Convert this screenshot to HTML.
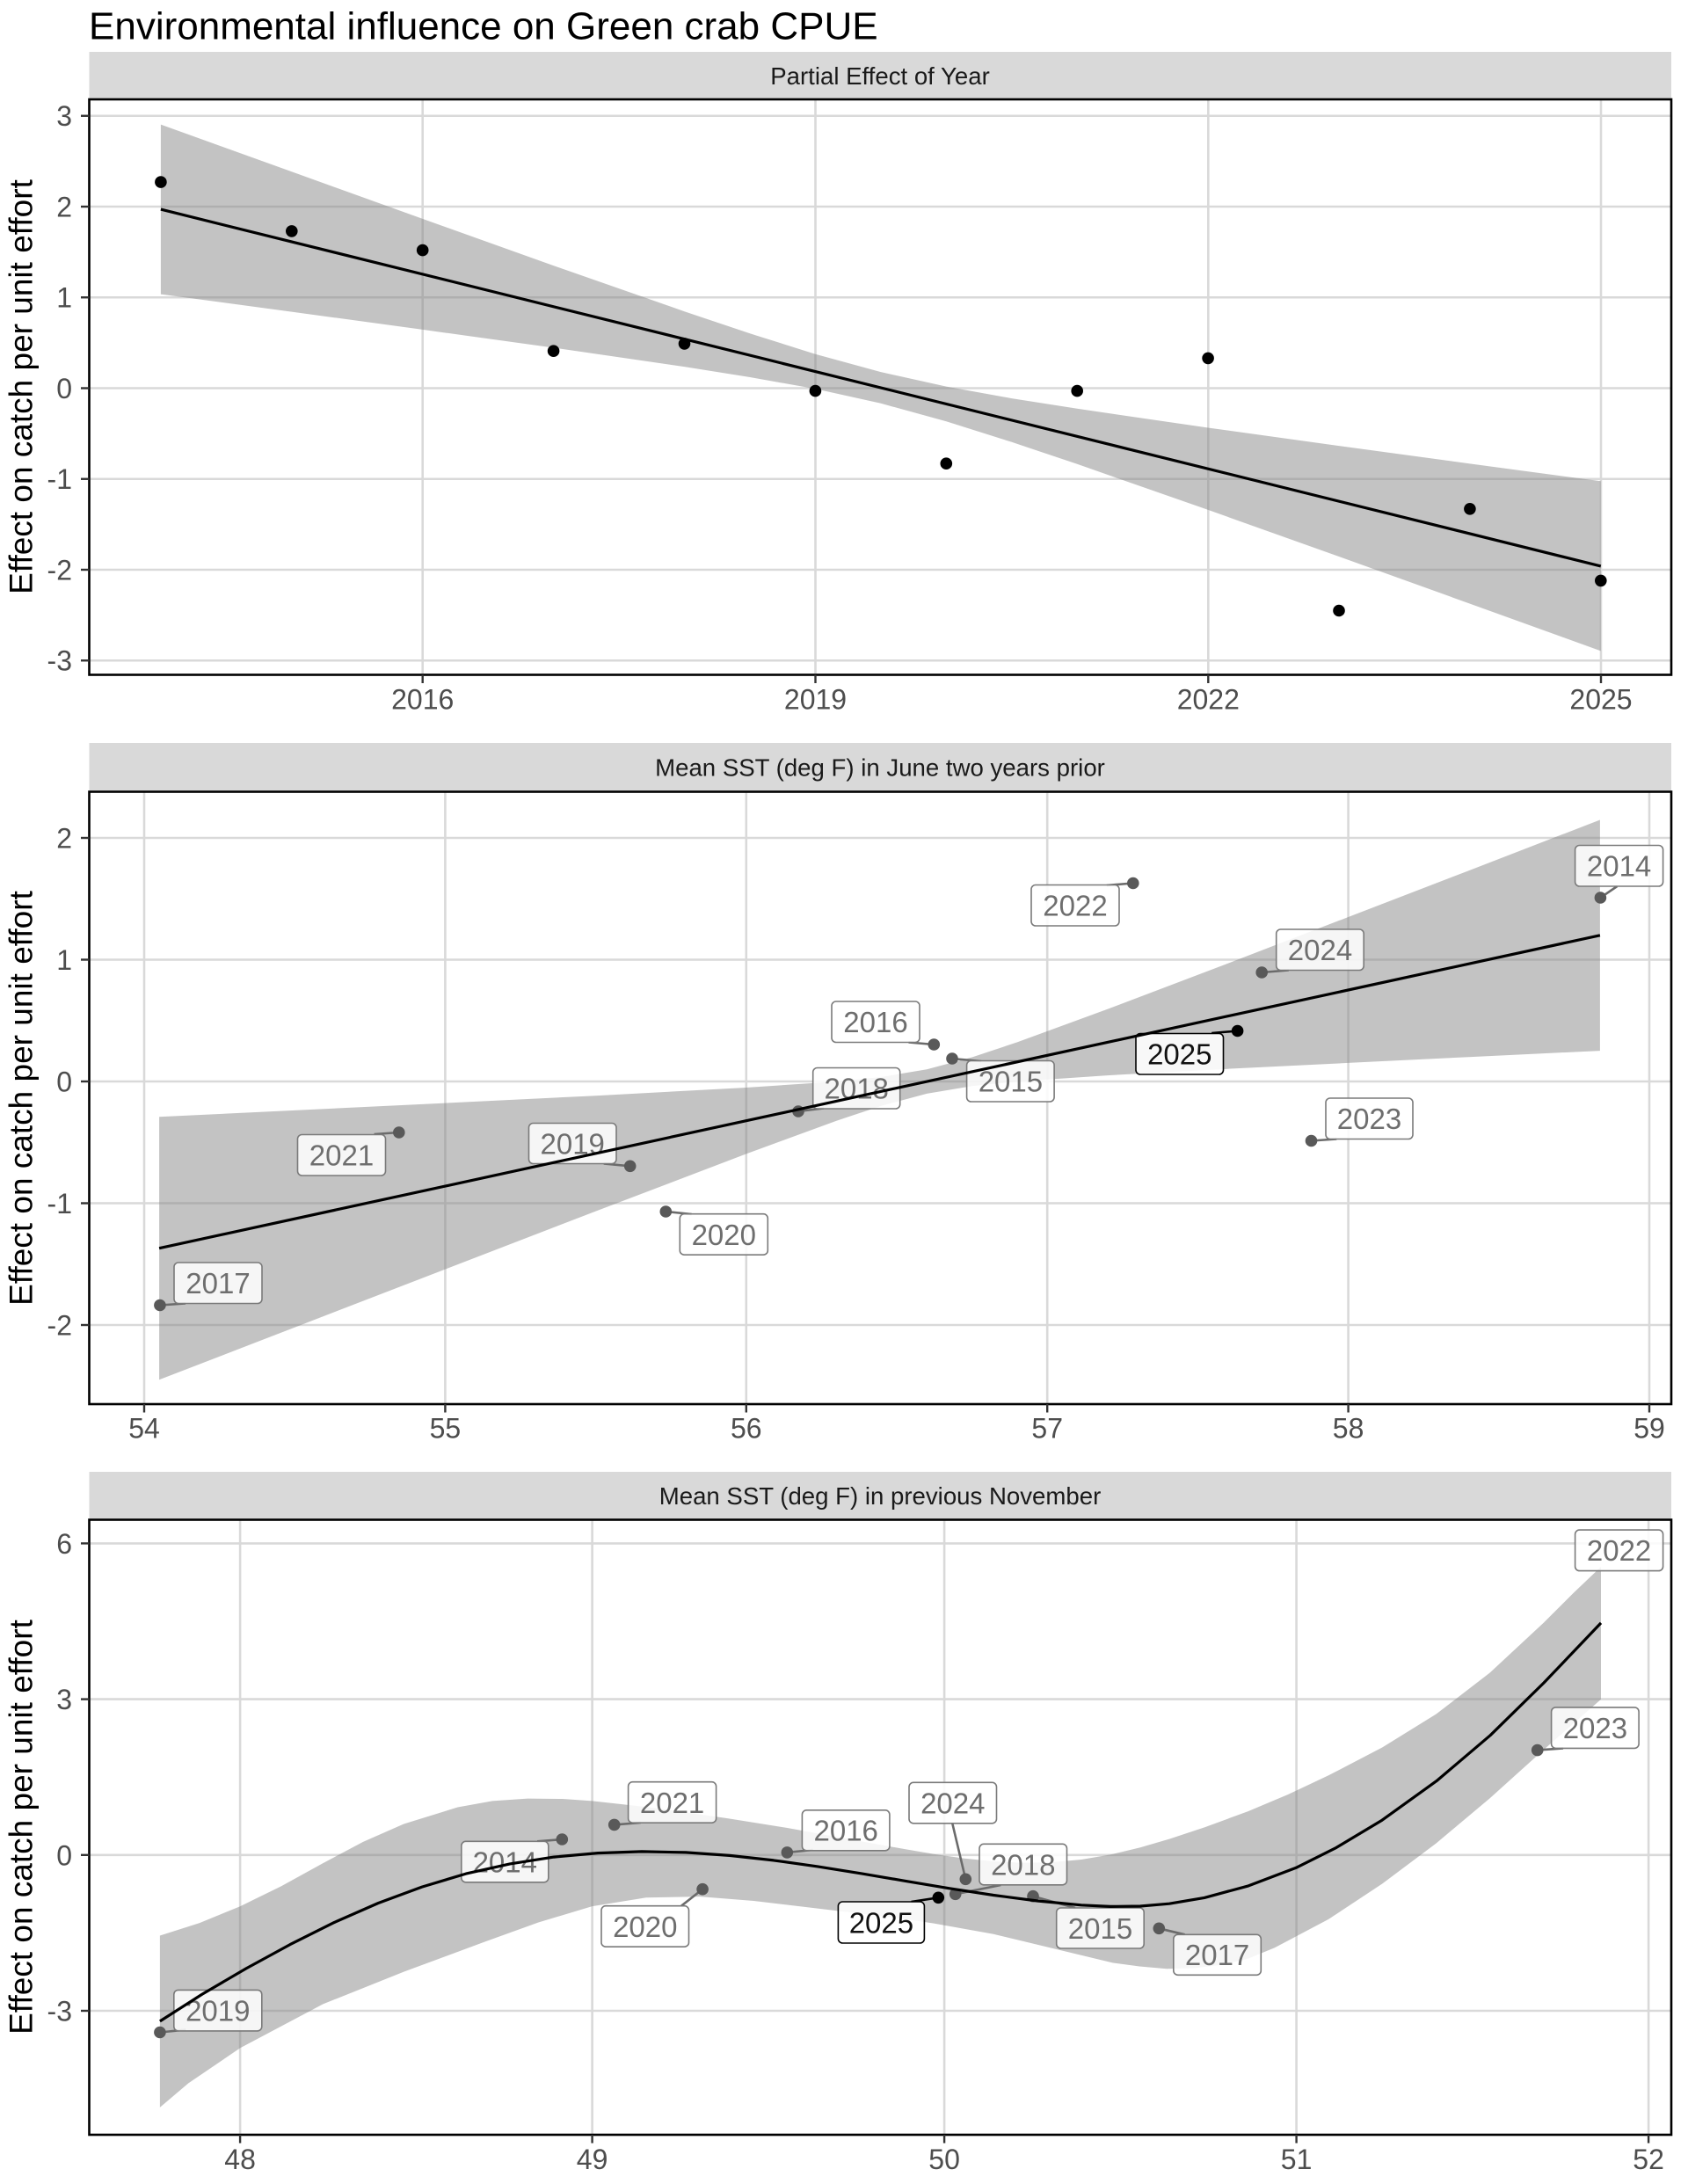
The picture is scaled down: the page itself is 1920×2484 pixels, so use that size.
<!DOCTYPE html>
<html>
<head>
<meta charset="utf-8">
<style>
  html, body { margin:0; padding:0; background:#ffffff; }
  svg { display:block; }
  text { font-family: "Liberation Sans", Arial, sans-serif; }
</style>
</head>
<body>
<svg width="1920" height="2484" viewBox="0 0 1920 2484" xmlns="http://www.w3.org/2000/svg">
  <rect x="0" y="0" width="1920" height="2484" fill="#ffffff"/>

  <!-- Title -->
  <text x="101" y="44.5" font-size="44" fill="#000">Environmental influence on Green crab CPUE</text>

  <!-- ================= PANEL 1 ================= -->
  <rect x="101.5" y="59" width="1799.5" height="54" fill="#D9D9D9"/>
  <text x="1001" y="96" font-size="27.6" fill="#1a1a1a" text-anchor="middle">Partial Effect of Year</text>
  <g stroke="#D9D9D9" stroke-width="2.6">
    <line x1="101.5" x2="1901" y1="131.75" y2="131.75"/>
    <line x1="101.5" x2="1901" y1="235" y2="235"/>
    <line x1="101.5" x2="1901" y1="338.25" y2="338.25"/>
    <line x1="101.5" x2="1901" y1="441.5" y2="441.5"/>
    <line x1="101.5" x2="1901" y1="544.75" y2="544.75"/>
    <line x1="101.5" x2="1901" y1="648" y2="648"/>
    <line x1="101.5" x2="1901" y1="751.25" y2="751.25"/>
    <line x1="480.7" x2="480.7" y1="113" y2="767.5"/>
    <line x1="927.5" x2="927.5" y1="113" y2="767.5"/>
    <line x1="1374.3" x2="1374.3" y1="113" y2="767.5"/>
    <line x1="1821" x2="1821" y1="113" y2="767.5"/>
  </g>
  <polygon fill="#808080" fill-opacity="0.47" points="182.9,141.6 331.8,195.3 480.7,248.9 629.6,302.1 778.5,354.2 853,379.3 927.4,402.7 1001.9,423.1 1076.3,439.6 1150.8,453.1 1225.2,464.8 1374.1,486.5 1523,507.1 1671.9,527.4 1820.8,547.3 1820.8,740.4 1671.9,686.6 1523,633 1374.1,579.9 1225.2,527.8 1150.8,502.8 1076.3,479.3 1001.9,458.8 927.4,442.3 853,429 778.5,417.1 629.6,395.5 480.7,374.9 331.8,354.6 182.9,334.6"/>
  <g fill="#000">
    <circle cx="182.9" cy="207.1" r="6.8"/>
    <circle cx="331.8" cy="262.9" r="6.8"/>
    <circle cx="480.7" cy="284.6" r="6.8"/>
    <circle cx="629.6" cy="399.2" r="6.8"/>
    <circle cx="778.5" cy="390.9" r="6.8"/>
    <circle cx="927.4" cy="444.6" r="6.8"/>
    <circle cx="1076.3" cy="527.2" r="6.8"/>
    <circle cx="1225.2" cy="444.6" r="6.8"/>
    <circle cx="1374.1" cy="407.4" r="6.8"/>
    <circle cx="1523" cy="694.5" r="6.8"/>
    <circle cx="1671.9" cy="578.8" r="6.8"/>
    <circle cx="1820.8" cy="660.4" r="6.8"/>
  </g>
  <line x1="182.9" y1="238.1" x2="1820.8" y2="643.9" stroke="#000" stroke-width="3.2"/>
  <rect x="101.5" y="113" width="1799.5" height="654.5" fill="none" stroke="#000" stroke-width="2.6"/>
  <g stroke="#333" stroke-width="2.4">
    <line x1="92" x2="101.5" y1="131.75" y2="131.75"/>
    <line x1="92" x2="101.5" y1="235" y2="235"/>
    <line x1="92" x2="101.5" y1="338.25" y2="338.25"/>
    <line x1="92" x2="101.5" y1="441.5" y2="441.5"/>
    <line x1="92" x2="101.5" y1="544.75" y2="544.75"/>
    <line x1="92" x2="101.5" y1="648" y2="648"/>
    <line x1="92" x2="101.5" y1="751.25" y2="751.25"/>
    <line x1="480.7" x2="480.7" y1="767.5" y2="777"/>
    <line x1="927.5" x2="927.5" y1="767.5" y2="777"/>
    <line x1="1374.3" x2="1374.3" y1="767.5" y2="777"/>
    <line x1="1821" x2="1821" y1="767.5" y2="777"/>
  </g>
  <g font-size="32" fill="#4D4D4D" text-anchor="end">
    <text x="82" y="143.2">3</text>
    <text x="82" y="246.5">2</text>
    <text x="82" y="349.7">1</text>
    <text x="82" y="453">0</text>
    <text x="82" y="556.2">-1</text>
    <text x="82" y="659.5">-2</text>
    <text x="82" y="762.7">-3</text>
  </g>
  <g font-size="32" fill="#4D4D4D" text-anchor="middle">
    <text x="480.7" y="806.5">2016</text>
    <text x="927.5" y="806.5">2019</text>
    <text x="1374.3" y="806.5">2022</text>
    <text x="1821" y="806.5">2025</text>
  </g>
  <text transform="translate(36.5,440) rotate(-90)" font-size="37" fill="#000" text-anchor="middle">Effect on catch per unit effort</text>

  <!-- ================= PANEL 2 ================= -->
  <rect x="101.5" y="845" width="1799.5" height="55.5" fill="#D9D9D9"/>
  <text x="1001" y="882.5" font-size="27.6" fill="#1a1a1a" text-anchor="middle">Mean SST (deg F) in June two years prior</text>
  <g stroke="#D9D9D9" stroke-width="2.6">
    <line x1="101.5" x2="1901" y1="953" y2="953"/>
    <line x1="101.5" x2="1901" y1="1091.5" y2="1091.5"/>
    <line x1="101.5" x2="1901" y1="1230" y2="1230"/>
    <line x1="101.5" x2="1901" y1="1368.5" y2="1368.5"/>
    <line x1="101.5" x2="1901" y1="1507" y2="1507"/>
    <line x1="164" x2="164" y1="900.5" y2="1597"/>
    <line x1="506.4" x2="506.4" y1="900.5" y2="1597"/>
    <line x1="848.8" x2="848.8" y1="900.5" y2="1597"/>
    <line x1="1191.2" x2="1191.2" y1="900.5" y2="1597"/>
    <line x1="1533.6" x2="1533.6" y1="900.5" y2="1597"/>
    <line x1="1876" x2="1876" y1="900.5" y2="1597"/>
  </g>
  <polygon fill="#808080" fill-opacity="0.47" points="181.1,1270.2 335.2,1262.9 506.4,1254.6 677.6,1246.2 848.8,1237 951.5,1230.1 1002.9,1224.9 1054.2,1216.2 1105.6,1202.5 1157,1185.4 1259.7,1147.8 1396.7,1095.7 1533.6,1043 1670.6,990.2 1819.9,932.5 1819.9,1195.1 1670.6,1202.2 1533.6,1208.9 1396.7,1215.7 1259.7,1223.1 1157,1230.1 1105.6,1235.3 1054.2,1243.9 1002.9,1257.6 951.5,1274.7 848.8,1312.4 677.6,1377.6 506.4,1443.6 335.2,1509.7 181.1,1569.3"/>
  <g transform="translate(0,-2)">
  <g stroke="#6b6b6b" stroke-width="2.6">
    <line x1="181.9" y1="1486.5" x2="211" y2="1484.5"/>
    <line x1="453.8" y1="1290" x2="425.6" y2="1292"/>
    <line x1="716.7" y1="1328.3" x2="686.7" y2="1325.5"/>
    <line x1="757.3" y1="1380" x2="786.7" y2="1383"/>
    <line x1="908" y1="1266" x2="937" y2="1262.5"/>
    <line x1="1062.3" y1="1190" x2="1033.5" y2="1187.5"/>
    <line x1="1083" y1="1206" x2="1116" y2="1209"/>
    <line x1="1288.8" y1="1006.5" x2="1258.8" y2="1009"/>
    <line x1="1491.5" y1="1299.5" x2="1520.3" y2="1297.5"/>
    <line x1="1435.2" y1="1108" x2="1465.8" y2="1105.5"/>
    <line x1="1820.4" y1="1023" x2="1839.4" y2="1010"/>
  </g>
  <line x1="1407.6" y1="1174.5" x2="1378.2" y2="1177" stroke="#000" stroke-width="2.6"/>
  <g fill="#595959">
    <circle cx="181.9" cy="1486.5" r="6.8"/>
    <circle cx="453.8" cy="1290" r="6.8"/>
    <circle cx="716.7" cy="1328.3" r="6.8"/>
    <circle cx="757.3" cy="1380" r="6.8"/>
    <circle cx="908" cy="1266" r="6.8"/>
    <circle cx="1062.3" cy="1190" r="6.8"/>
    <circle cx="1083" cy="1206" r="6.8"/>
    <circle cx="1288.8" cy="1006.5" r="6.8"/>
    <circle cx="1435.2" cy="1108" r="6.8"/>
    <circle cx="1491.5" cy="1299.5" r="6.8"/>
    <circle cx="1820.4" cy="1023" r="6.8"/>
  </g>
  <circle cx="1407.6" cy="1174.5" r="6.8" fill="#000"/>
  <g fill="#ffffff" fill-opacity="0.85" stroke="#7a7a7a" stroke-width="1.6">
    <rect x="198" y="1438" width="100" height="46.5" rx="5"/>
    <rect x="338.5" y="1292.5" width="100" height="46.5" rx="5"/>
    <rect x="601.5" y="1279.5" width="99.5" height="46" rx="5"/>
    <rect x="773.3" y="1382.7" width="100" height="46.5" rx="5"/>
    <rect x="924.7" y="1216.5" width="99" height="46.5" rx="5"/>
    <rect x="946" y="1141" width="100" height="46.5" rx="5"/>
    <rect x="1099.6" y="1208.5" width="99.5" height="46.5" rx="5"/>
    <rect x="1173" y="1008.5" width="100" height="46.5" rx="5"/>
    <rect x="1451.7" y="1059" width="99.5" height="46.5" rx="5"/>
    <rect x="1508" y="1251" width="99" height="46.5" rx="5"/>
    <rect x="1791.6" y="963.5" width="100" height="46.5" rx="5"/>
  </g>
  <rect x="1292" y="1177.5" width="99.5" height="46.5" rx="5" fill="#ffffff" fill-opacity="0.88" stroke="#000" stroke-width="1.6"/>
  <g font-size="33" fill="#6e6e6e" text-anchor="middle">
    <text x="248" y="1473">2017</text>
    <text x="388.5" y="1327.5">2021</text>
    <text x="651.2" y="1314.3">2019</text>
    <text x="823.3" y="1417.8">2020</text>
    <text x="974.2" y="1251.5">2018</text>
    <text x="996" y="1176">2016</text>
    <text x="1149.4" y="1243.5">2015</text>
    <text x="1223" y="1043.5">2022</text>
    <text x="1501.5" y="1094">2024</text>
    <text x="1557.5" y="1286">2023</text>
    <text x="1841.6" y="998.5">2014</text>
  </g>
  <text x="1341.8" y="1212.5" font-size="33" fill="#111" text-anchor="middle">2025</text>
  </g>
  <line x1="181.1" y1="1419.7" x2="1819.9" y2="1063.8" stroke="#000" stroke-width="3.2"/>
  <rect x="101.5" y="900.5" width="1799.5" height="696.5" fill="none" stroke="#000" stroke-width="2.6"/>
  <g stroke="#333" stroke-width="2.4">
    <line x1="92" x2="101.5" y1="953" y2="953"/>
    <line x1="92" x2="101.5" y1="1091.5" y2="1091.5"/>
    <line x1="92" x2="101.5" y1="1230" y2="1230"/>
    <line x1="92" x2="101.5" y1="1368.5" y2="1368.5"/>
    <line x1="92" x2="101.5" y1="1507" y2="1507"/>
    <line x1="164" x2="164" y1="1597" y2="1606.5"/>
    <line x1="506.4" x2="506.4" y1="1597" y2="1606.5"/>
    <line x1="848.8" x2="848.8" y1="1597" y2="1606.5"/>
    <line x1="1191.2" x2="1191.2" y1="1597" y2="1606.5"/>
    <line x1="1533.6" x2="1533.6" y1="1597" y2="1606.5"/>
    <line x1="1876" x2="1876" y1="1597" y2="1606.5"/>
  </g>
  <g font-size="32" fill="#4D4D4D" text-anchor="end">
    <text x="82" y="964.5">2</text>
    <text x="82" y="1103">1</text>
    <text x="82" y="1241.5">0</text>
    <text x="82" y="1380">-1</text>
    <text x="82" y="1518.5">-2</text>
  </g>
  <g font-size="32" fill="#4D4D4D" text-anchor="middle">
    <text x="164" y="1635.5">54</text>
    <text x="506.4" y="1635.5">55</text>
    <text x="848.8" y="1635.5">56</text>
    <text x="1191.2" y="1635.5">57</text>
    <text x="1533.6" y="1635.5">58</text>
    <text x="1876" y="1635.5">59</text>
  </g>
  <text transform="translate(36.5,1249) rotate(-90)" font-size="37" fill="#000" text-anchor="middle">Effect on catch per unit effort</text>

  <!-- ================= PANEL 3 ================= -->
  <rect x="101.5" y="1674" width="1799.5" height="54.5" fill="#D9D9D9"/>
  <text x="1001" y="1711" font-size="27.6" fill="#1a1a1a" text-anchor="middle">Mean SST (deg F) in previous November</text>
  <g stroke="#D9D9D9" stroke-width="2.6">
    <line x1="101.5" x2="1901" y1="1755.4" y2="1755.4"/>
    <line x1="101.5" x2="1901" y1="1932.6" y2="1932.6"/>
    <line x1="101.5" x2="1901" y1="2109.8" y2="2109.8"/>
    <line x1="101.5" x2="1901" y1="2287" y2="2287"/>
    <line x1="273.1" x2="273.1" y1="1728.5" y2="2428"/>
    <line x1="673.6" x2="673.6" y1="1728.5" y2="2428"/>
    <line x1="1074.1" x2="1074.1" y1="1728.5" y2="2428"/>
    <line x1="1474.6" x2="1474.6" y1="1728.5" y2="2428"/>
    <line x1="1875.1" x2="1875.1" y1="1728.5" y2="2428"/>
  </g>
  <polygon fill="#808080" fill-opacity="0.47" stroke-linejoin="round" points="181.9,2201.5 227,2187.1 273.1,2168.2 320,2145.2 367.4,2119.1 413,2094.9 459.3,2074.5 520.5,2055.5 560,2048.4 600.1,2045.6 640,2046 673.6,2048.4 734.8,2055.1 826.7,2068 894.1,2078.8 960.2,2090.7 1030,2103.3 1063,2108.9 1097,2113.7 1130,2117 1163,2118.7 1197,2118 1230,2115 1263,2109.4 1297,2101.2 1330,2091.6 1370,2078.4 1419.3,2060.2 1465,2041 1511.1,2019.3 1572.4,1987.4 1633.6,1949.5 1694.8,1902.4 1756.1,1845.4 1790,1811.5 1821,1782 1821,1932.8 1756.1,1989.9 1694.8,2045.1 1633.6,2096.5 1572.4,2142.4 1511.1,2182.9 1449.9,2215.3 1420,2227.5 1388.7,2234.9 1358,2238.5 1327,2239.3 1296,2236.5 1266,2232.5 1197,2215.9 1130,2199.8 1063,2187.7 1030,2182.7 960.2,2174.3 918.5,2169.3 857.3,2162 796.1,2157.1 734.8,2158.3 673.6,2168.1 612.4,2186.5 551.1,2208.6 459.3,2242.6 367.4,2279.4 273.1,2329.4 214.3,2369.4 181.9,2396.9"/>
  <g stroke="#6b6b6b" stroke-width="2.6">
    <line x1="181.9" y1="2311.5" x2="211.3" y2="2308.6"/>
    <line x1="639.3" y1="2092" x2="611.1" y2="2094.3"/>
    <line x1="698.7" y1="2075.4" x2="728.7" y2="2073"/>
    <line x1="799.1" y1="2148.7" x2="775" y2="2167.7"/>
    <line x1="895.3" y1="2106.9" x2="924.7" y2="2104"/>
    <line x1="1098.3" y1="2137.3" x2="1083.3" y2="2074"/>
    <line x1="1086.7" y1="2154.3" x2="1138.3" y2="2144"/>
    <line x1="1175" y1="2156.7" x2="1223" y2="2170"/>
    <line x1="1318.3" y1="2193.3" x2="1347.6" y2="2200.3"/>
    <line x1="1748.7" y1="1990.6" x2="1778" y2="1988.4"/>
  </g>
  <line x1="1067.3" y1="2158.3" x2="1036.5" y2="2163" stroke="#000" stroke-width="2.6"/>
  <g fill="#595959">
    <circle cx="181.9" cy="2311.5" r="6.8"/>
    <circle cx="639.3" cy="2092" r="6.8"/>
    <circle cx="698.7" cy="2075.4" r="6.8"/>
    <circle cx="799.1" cy="2148.7" r="6.8"/>
    <circle cx="895.3" cy="2106.9" r="6.8"/>
    <circle cx="1098.3" cy="2137.3" r="6.8"/>
    <circle cx="1086.7" cy="2154.3" r="6.8"/>
    <circle cx="1175" cy="2156.7" r="6.8"/>
    <circle cx="1318.3" cy="2193.3" r="6.8"/>
    <circle cx="1748.7" cy="1990.6" r="6.8"/>
  </g>
  <circle cx="1067.3" cy="2158.3" r="6.8" fill="#000"/>
  <g fill="#ffffff" fill-opacity="0.85" stroke="#7a7a7a" stroke-width="1.6">
    <rect x="197.8" y="2263.4" width="100" height="46.5" rx="5"/>
    <rect x="524.8" y="2094.3" width="99" height="46.5" rx="5"/>
    <rect x="714.6" y="2026.7" width="100" height="46.5" rx="5"/>
    <rect x="684" y="2167.7" width="99.5" height="46.5" rx="5"/>
    <rect x="912.4" y="2058.8" width="99.5" height="46" rx="5"/>
    <rect x="1034" y="2027.3" width="99.5" height="46.5" rx="5"/>
    <rect x="1114" y="2097.3" width="99.5" height="46.5" rx="5"/>
    <rect x="1201.7" y="2170" width="99.5" height="46" rx="5"/>
    <rect x="1334.8" y="2200.3" width="99.5" height="46" rx="5"/>
    <rect x="1764.6" y="1941.9" width="99.5" height="46.5" rx="5"/>
    <rect x="1791.6" y="1740.1" width="100" height="46.5" rx="5"/>
  </g>
  <rect x="953.4" y="2163" width="98" height="47" rx="5" fill="#ffffff" fill-opacity="0.88" stroke="#000" stroke-width="1.6"/>
  <g font-size="33" fill="#6e6e6e" text-anchor="middle">
    <text x="247.8" y="2298.5">2019</text>
    <text x="574.3" y="2129.4">2014</text>
    <text x="764.6" y="2061.8">2021</text>
    <text x="733.8" y="2202.8">2020</text>
    <text x="962.2" y="2093.6">2016</text>
    <text x="1083.8" y="2062.4">2024</text>
    <text x="1163.8" y="2132.4">2018</text>
    <text x="1251.5" y="2204.8">2015</text>
    <text x="1384.6" y="2235.1">2017</text>
    <text x="1814.4" y="1977">2023</text>
    <text x="1841.6" y="1775.2">2022</text>
  </g>
  <text x="1002.4" y="2198.3" font-size="33" fill="#111" text-anchor="middle">2025</text>
  <polyline fill="none" stroke="#000" stroke-width="3.2" stroke-linejoin="round" points="181.9,2298.9 230,2268.1 280,2238.9 330,2211.6 380,2186.6 430,2164.6 480,2146.1 530,2131.1 580,2119.9 630,2112.1 680,2107.6 730,2105.9 780,2106.9 830,2110.4 880,2115.9 930,2122.9 980,2130.9 1030,2139.4 1080,2147.8 1130,2155.5 1180,2162 1230,2166.8 1263,2168.4 1297,2168 1330,2165.2 1370,2158.4 1420,2144.9 1474,2124.4 1520,2101.4 1572,2070.2 1634,2025.6 1695,1973.8 1756,1914 1821,1845.9"/>
  <rect x="101.5" y="1728.5" width="1799.5" height="699.5" fill="none" stroke="#000" stroke-width="2.6"/>
  <g stroke="#333" stroke-width="2.4">
    <line x1="92" x2="101.5" y1="1755.4" y2="1755.4"/>
    <line x1="92" x2="101.5" y1="1932.6" y2="1932.6"/>
    <line x1="92" x2="101.5" y1="2109.8" y2="2109.8"/>
    <line x1="92" x2="101.5" y1="2287" y2="2287"/>
    <line x1="273.1" x2="273.1" y1="2428" y2="2437.5"/>
    <line x1="673.6" x2="673.6" y1="2428" y2="2437.5"/>
    <line x1="1074.1" x2="1074.1" y1="2428" y2="2437.5"/>
    <line x1="1474.6" x2="1474.6" y1="2428" y2="2437.5"/>
    <line x1="1875.1" x2="1875.1" y1="2428" y2="2437.5"/>
  </g>
  <g font-size="32" fill="#4D4D4D" text-anchor="end">
    <text x="82" y="1766.9">6</text>
    <text x="82" y="1944.1">3</text>
    <text x="82" y="2121.3">0</text>
    <text x="82" y="2298.5">-3</text>
  </g>
  <g font-size="32" fill="#4D4D4D" text-anchor="middle">
    <text x="273.1" y="2467">48</text>
    <text x="673.6" y="2467">49</text>
    <text x="1074.1" y="2467">50</text>
    <text x="1474.6" y="2467">51</text>
    <text x="1875.1" y="2467">52</text>
  </g>
  <text transform="translate(36.5,2078) rotate(-90)" font-size="37" fill="#000" text-anchor="middle">Effect on catch per unit effort</text>
</svg>
</body>
</html>
